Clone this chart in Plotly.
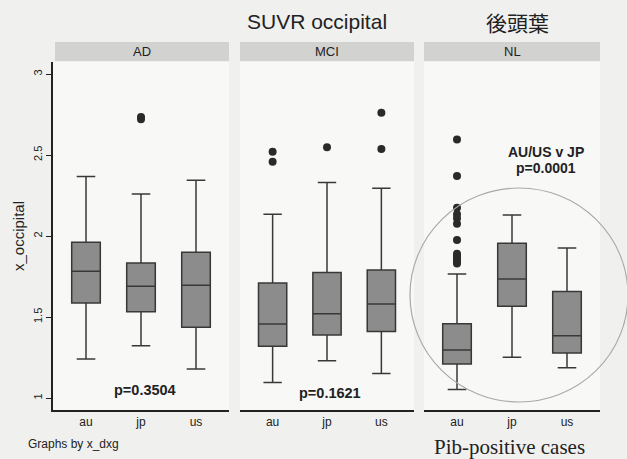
import plotly.graph_objects as go

# ---------------- data ----------------
groups = ["AD", "MCI", "NL"]
cats = ["au", "jp", "us"]

# per group: [au, jp, us]
q1_vals = {"AD": [1.587, 1.532, 1.436], "MCI": [1.320, 1.389, 1.410], "NL": [1.210, 1.567, 1.278]}
median_vals = {"AD": [1.783, 1.690, 1.696], "MCI": [1.457, 1.520, 1.580], "NL": [1.297, 1.735, 1.384]}
q3_vals = {"AD": [1.962, 1.833, 1.900], "MCI": [1.710, 1.775, 1.790], "NL": [1.459, 1.956, 1.657]}
low_vals = {"AD": [1.240, 1.322, 1.179], "MCI": [1.096, 1.230, 1.152], "NL": [1.052, 1.252, 1.187]}
up_vals = {"AD": [2.368, 2.260, 2.344], "MCI": [2.134, 2.330, 2.294], "NL": [1.765, 2.130, 1.926]}

# outliers per group
out_ad_x = ["jp", "jp"]
out_ad_y = [2.72, 2.735]
out_mci_x = ["au", "au", "jp", "us", "us"]
out_mci_y = [2.52, 2.458, 2.548, 2.761, 2.537]
out_nl_x = ["au"] * 12
out_nl_y = [1.83, 1.845, 1.86, 1.875, 1.89, 1.975, 2.075, 2.11, 2.135, 2.175, 2.37, 2.595]

outliers = {"AD": (out_ad_x, out_ad_y), "MCI": (out_mci_x, out_mci_y), "NL": (out_nl_x, out_nl_y)}

y_ticks = [1, 1.5, 2, 2.5, 3]
y_tick_text = ["1", "1.5", "2", "2.5", "3"]

# ---------------- layout geometry ----------------
W, H = 627, 459
L, R, T, B = 53, 600, 62, 410
pw, ph = R - L, B - T

def px_x(x):
    return (x - L) / pw

def px_y(y):
    return (B - y) / ph

domains = [[0, px_x(229)], [px_x(240), px_x(414)], [px_x(424), 1.0]]

BOX_FILL = "#8c8c8c"
BOX_LINE = "#383838"
DOT = "#2a2a2a"
TXT = "#222222"

fig = go.Figure()

for i, g in enumerate(groups):
    ax = "" if i == 0 else str(i + 1)
    fig.add_trace(go.Box(
        x=cats, q1=q1_vals[g], median=median_vals[g], q3=q3_vals[g],
        lowerfence=low_vals[g], upperfence=up_vals[g],
        xaxis="x" + ax, yaxis="y" + ax,
        fillcolor=BOX_FILL, line=dict(color=BOX_LINE, width=1.5),
        width=0.52, whiskerwidth=0.65, boxpoints=False,
        showlegend=False, hoverinfo="skip",
    ))
    ox, oy = outliers[g]
    fig.add_trace(go.Scatter(
        x=ox, y=oy, mode="markers", xaxis="x" + ax, yaxis="y" + ax,
        marker=dict(color=DOT, size=8), showlegend=False, hoverinfo="skip",
    ))

yrange = [1 - (B - 398) / 162.0, 3 + (74 - T) / 162.0]

layout = dict(
    width=W, height=H,
    margin=dict(l=L, r=W - R, t=T, b=H - B, pad=0),
    paper_bgcolor="#f0f0ee", plot_bgcolor="#f8f8f7",
    font=dict(family="Arial, Liberation Sans, sans-serif", color=TXT),
    showlegend=False,
)

for i in range(3):
    ax = "" if i == 0 else str(i + 1)
    layout["xaxis" + ax] = dict(
        domain=domains[i], anchor="y" + ax, type="category",
        categoryorder="array", categoryarray=cats,
        range=[-0.6, 2.6], showline=True, linecolor="#222222", linewidth=2,
        ticks="", showgrid=False, zeroline=False,
        tickfont=dict(size=12, color=TXT, family="Arial, Liberation Sans, sans-serif"),
    )
    layout["yaxis" + ax] = dict(
        domain=[0, 1], anchor="x" + ax, range=yrange,
        showgrid=False, zeroline=False,
        showline=(i == 0), linecolor="#222222", linewidth=1.5,
        ticks="outside" if i == 0 else "", ticklen=5, tickcolor="#222222",
        tickvals=y_ticks, ticktext=y_tick_text, tickangle=-90,
        showticklabels=(i == 0), tickfont=dict(size=11, color=TXT),
    )

fig.update_layout(**layout)

# header bands and labels
shapes = []
annotations = []
band_x = [(55, 229), (240, 414), (424, 600)]
for (x0, x1), g in zip(band_x, groups):
    shapes.append(dict(type="rect", xref="paper", yref="paper",
                       x0=px_x(x0), x1=px_x(x1), y0=px_y(61), y1=px_y(42),
                       fillcolor="#d2d2d0", line=dict(width=0), layer="below"))
    annotations.append(dict(xref="paper", yref="paper", x=px_x((x0 + x1) / 2), y=px_y(52),
                            text=g, showarrow=False, font=dict(size=13, color=TXT),
                            xanchor="center", yanchor="middle"))

# circle around NL panel
shapes.append(dict(type="circle", xref="paper", yref="paper",
                   x0=px_x(410), x1=px_x(628), y0=px_y(402), y1=px_y(188),
                   line=dict(color="#a9a9a7", width=1.2)))

def ann(x, y, text, size, bold=False, family=None, angle=0):
    f = dict(size=size, color=TXT)
    if family:
        f["family"] = family
    annotations.append(dict(xref="paper", yref="paper", x=px_x(x), y=px_y(y),
                            text=("<b>%s</b>" % text) if bold else text,
                            showarrow=False, font=f, textangle=angle,
                            xanchor="center", yanchor="middle"))

ann(317, 21, "SUVR occipital", 21)
ann(517, 22, "後頭葉", 21, family="Noto Sans CJK JP")
ann(145, 390, "p=0.3504", 14.5, bold=True)
ann(330, 393, "p=0.1621", 14.5, bold=True)
ann(546, 152, "AU/US v JP", 14, bold=True)
ann(546, 168, "p=0.0001", 14, bold=True)
ann(18, 236, "x_occipital", 15, angle=-90)
ann(73, 444, "Graphs by x_dxg", 12)
ann(510, 447, "Pib-positive cases", 21, family="Liberation Serif, Times New Roman, serif")

fig.update_layout(shapes=shapes, annotations=annotations)

fig.write_html("out.html")
